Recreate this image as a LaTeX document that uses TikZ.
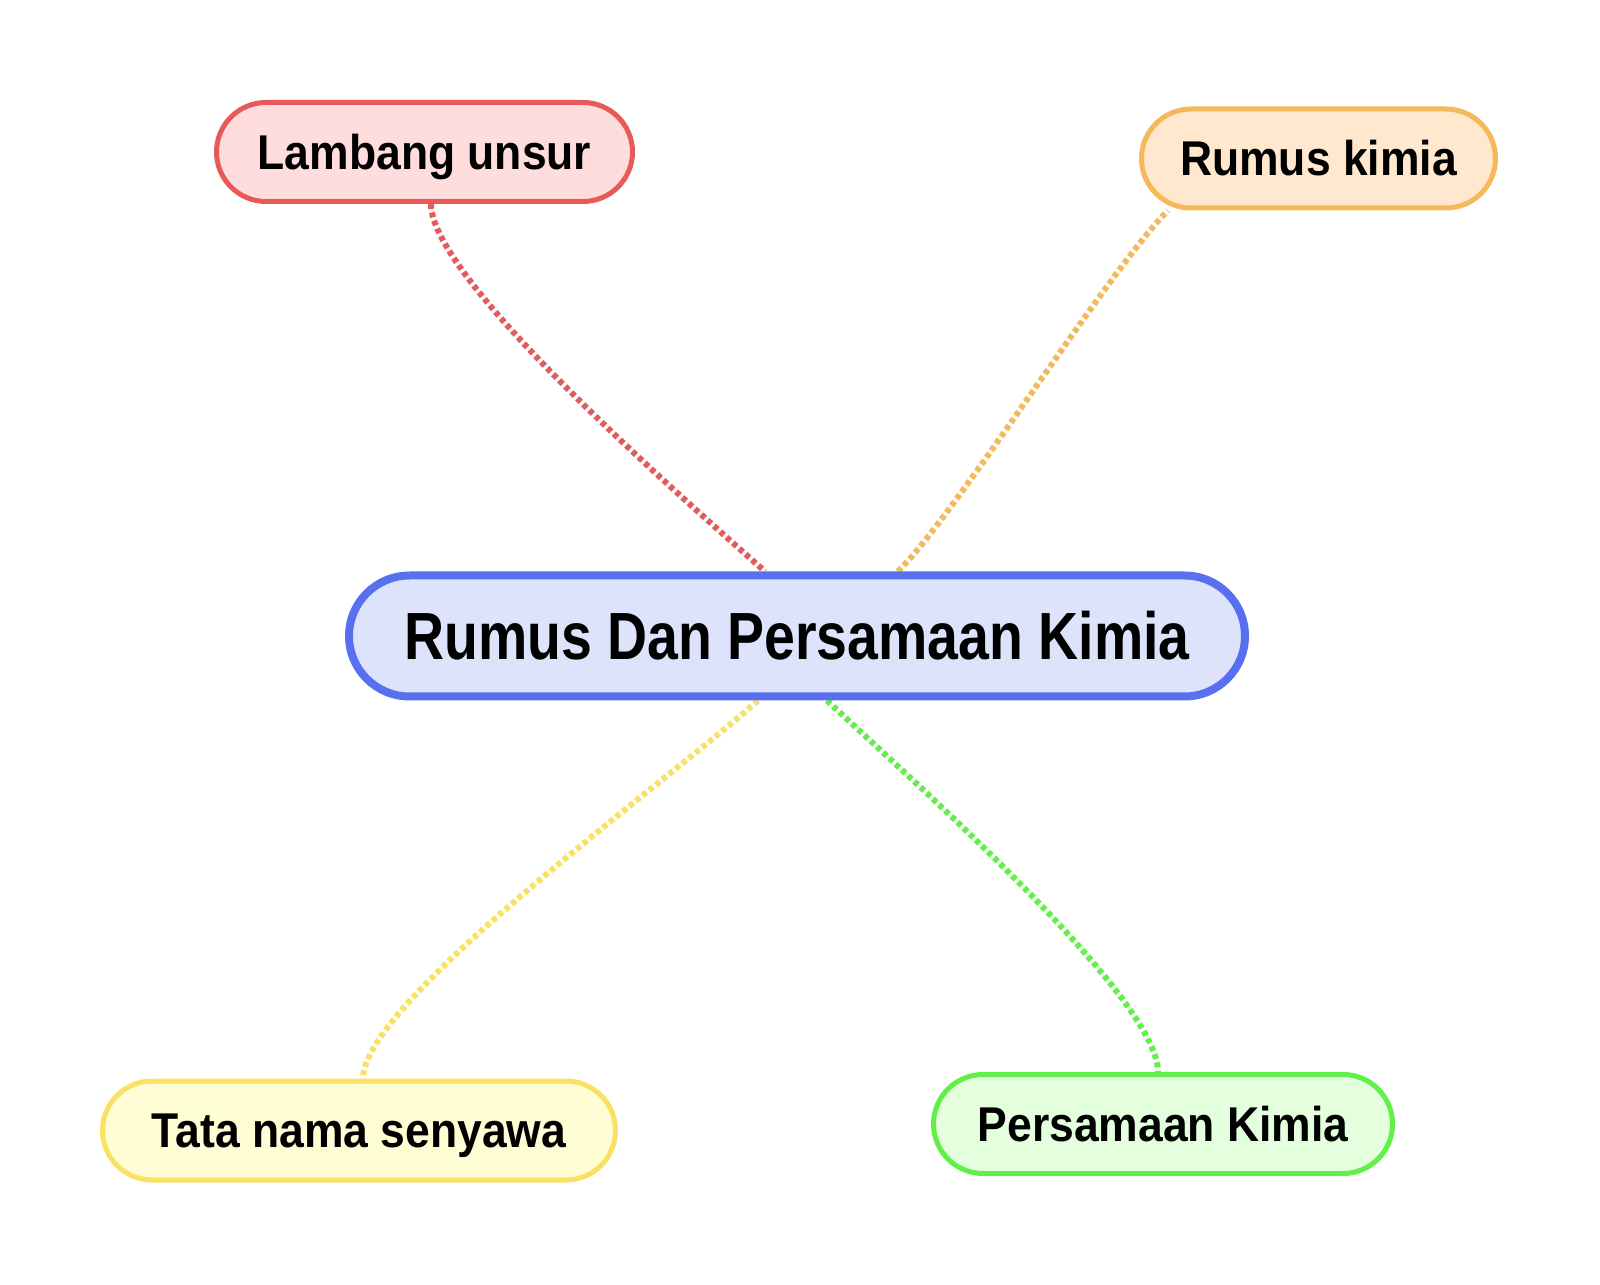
\documentclass[tikz,border=0pt]{standalone}
\usepackage{fontspec}
\usepackage{xcolor}
\usepackage{tikz}
\usetikzlibrary{shapes.misc,backgrounds}

\newfontfamily\leaffont[FakeStretch=0.91]{Liberation Sans}
\newfontfamily\hubfont[FakeStretch=0.83]{Liberation Sans}

\definecolor{hubline}{HTML}{5870F0}
\definecolor{hubfill}{HTML}{DDE3FB}
\definecolor{redline}{HTML}{E85A5A}
\definecolor{redfill}{HTML}{FFDDDD}
\definecolor{orangeline}{HTML}{F5B85A}
\definecolor{orangefill}{HTML}{FFE8CE}
\definecolor{yellowline}{HTML}{FAE164}
\definecolor{yellowfill}{HTML}{FFFDD4}
\definecolor{greenline}{HTML}{62F048}
\definecolor{greenfill}{HTML}{E4FFDE}

\begin{document}
\begin{tikzpicture}[
    hub/.style={rounded rectangle, draw=hubline, fill=hubfill, line width=0.16cm,
        inner sep=0pt, minimum width=17.92cm, minimum height=2.42cm,
        text height=27.2pt, text depth=0pt,
        font=\hubfont\bfseries\fontsize{38}{40}\selectfont},
    leaf/.style={rounded rectangle, line width=0.1cm, inner sep=0pt,
        minimum height=1.98cm, text height=19.9pt, text depth=0pt,
        font=\leaffont\bfseries\fontsize{27.8}{30}\selectfont},
    link/.style={line width=0.12cm, dash pattern=on 0.1cm off 0.07cm}
]
\useasboundingbox (0,0) rectangle (32,-25.7);

% Centre
\node[hub] (hub) at (15.94,-12.72) {Rumus Dan Persamaan Kimia};

% Branches
\node[leaf, draw=redline, fill=redfill, minimum width=8.32cm] (lambang) at (8.49,-3.04) {Lambang unsur};
\node[leaf, draw=orangeline, fill=orangefill, minimum width=7.08cm] (rumus) at (26.37,-3.17) {Rumus kimia};
\node[leaf, draw=yellowline, fill=yellowfill, minimum width=10.26cm] (tatanama) at (7.18,-22.61) {Tata nama senyawa};
\node[leaf, draw=greenline, fill=greenfill, minimum width=9.18cm] (persamaan) at (23.26,-22.48) {Persamaan Kimia};

% Links (behind the boxes)
\begin{scope}[on background layer]
\draw[link, redline] ([xshift=0.13cm]lambang.south)
    .. controls +(0,-1.5) and +(-1.7,1.52) .. ([xshift=-0.64cm]hub.north);
\draw[link, orangeline] ([xshift=2.02cm]hub.north)
    .. controls +(1.2,1.2) and +(-1.2,-1.2) .. ([xshift=-3.01cm]rumus.south);
\draw[link, yellowline] ([xshift=-0.78cm]hub.south)
    .. controls +(-1.78,-1.6) and +(0,1.54) .. ([xshift=0.08cm]tatanama.north);
\draw[link, greenline] ([xshift=0.6cm]hub.south)
    .. controls +(1.7,-1.6) and +(0,1.5) .. ([xshift=-0.1cm]persamaan.north);
\end{scope}
\end{tikzpicture}
\end{document}
